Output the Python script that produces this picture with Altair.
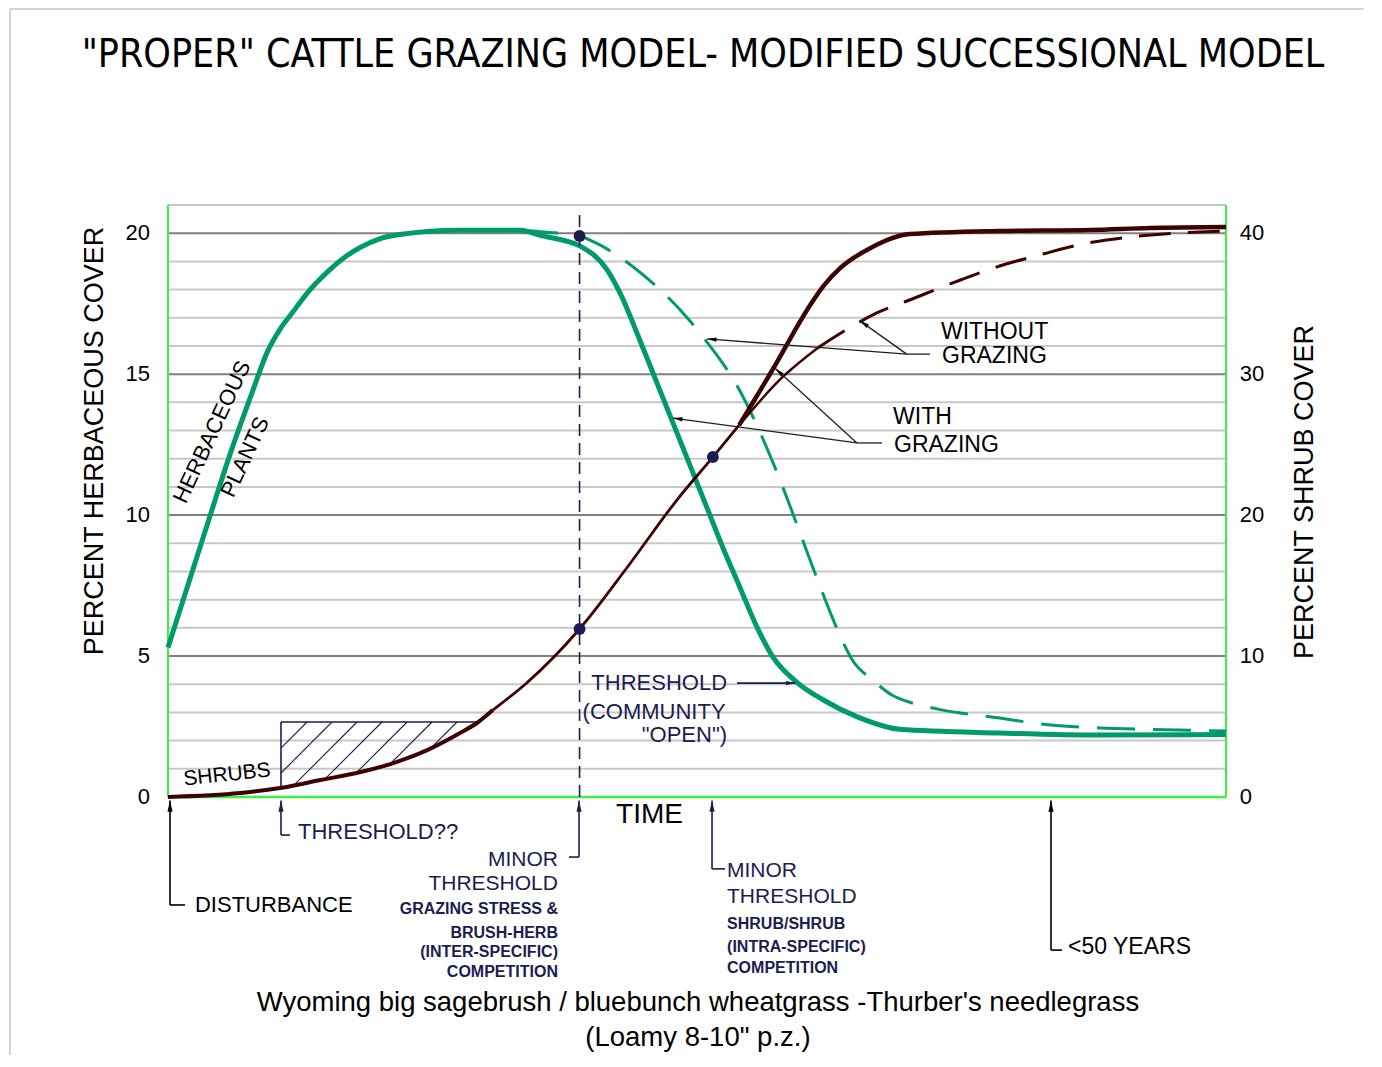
import math
import numpy as np
import pandas as pd
import altair as alt

# ---------------- data ----------------
# x = relative successional time (0 = disturbance, 100 = right edge of plot)
# herbaceous cover (%), left axis
herb_with_t = [0, 4, 5.9, 8, 9.4, 10.6, 11.8, 13.1, 15, 16.9, 18.2, 20, 21.9, 27.6, 33.3, 35.2, 38.9, 41.5,
               42.7, 44.6, 46.2, 47.7, 49.3, 50.9, 52.5, 54.1, 55.7, 57.2, 59.5, 61.9, 65.1, 69.2, 78.6, 88.1, 100]
herb_with_v = [5.3, 10.0, 12.2, 14.4, 15.8, 16.6, 17.2, 17.85, 18.6, 19.2, 19.5, 19.8, 19.95, 20.1, 20.1, 19.92,
               19.55, 18.7, 17.9, 16.2, 14.7, 13.3, 11.8, 10.3, 8.8, 7.4, 6.0, 4.95, 4.05, 3.45, 2.85, 2.4,
               2.27, 2.2, 2.22]
herb_without_t = [33.3, 35.2, 38.9, 40.2, 45.6, 47.2, 49.3, 50.6, 52.4, 53.3, 56.0, 58.1, 59.9, 61.6,
                  63.2, 64.7, 66.6, 68.5, 70.4, 73.0, 78.6, 83.4, 88.1, 92.8, 100]
herb_without_v = [20.1, 20.05, 19.9, 19.7, 18.3, 17.75, 16.9, 16.3, 15.4, 14.9, 12.9, 11.0, 9.2, 7.5,
                  6.0, 4.85, 4.15, 3.6, 3.33, 3.1, 2.8, 2.55, 2.45, 2.4, 2.34]

# shrub cover (%), right axis units
shrub_common_t = [0, 6.8, 10.6, 14.4, 18.2, 21.3, 24.5, 27.6, 29.2, 30.7, 33.9, 38.9, 43.5, 48.1, 51.5, 54.0]
shrub_common_v = [0, 0.28, 0.64, 1.2, 1.77, 2.41, 3.33, 4.54, 5.25, 6.17, 8.09, 11.92, 16.39, 21.07, 24.12, 26.4]
shrub_thin_from = 9   # the shared shrub line is drawn thinner from this index on
shrub_with_t = [54.0, 55.7, 57.6, 59.1, 60.7, 62.0, 63.5, 66.4, 70.1, 78.6, 87.2, 92.8, 100]
shrub_with_v = [26.4, 28.5, 30.9, 32.9, 34.9, 36.3, 37.5, 38.95, 39.94, 40.16, 40.23, 40.37, 40.44]
shrub_without_t = [54.0, 58.1, 61.4, 64.0, 67.0, 70.1, 74.9, 78.6, 82.7, 86.0, 90.9, 97.5, 100]
shrub_without_v = [26.4, 29.8, 31.86, 33.1, 34.34, 35.26, 36.68, 37.67, 38.52, 39.16, 39.73, 40.09, 40.16]
shrub_dash_from = 2   # index where the "without grazing" shrub line becomes dashed

# marked points
herb_dot_t, herb_dot_v = [38.9], [19.9]
shrub_dot_t, shrub_dot_v = [38.9, 51.5], [11.92, 24.12]
minor_line_t, minor_line_top = 38.9, 20.65

# grid levels (left axis units) and tick values
grid_minor = [v for v in range(0, 22) if v % 5 != 0 or v == 0]
grid_major = [5, 10, 15, 20]
left_ticks = [0, 5, 10, 15, 20]
right_ticks = [0, 10, 20, 30, 40]
RIGHT_PER_LEFT = 2.0   # right axis (shrub) = 2 x left axis (herbaceous)

# hatched "shrub threshold" box
hatch_left_t, hatch_top_v = 10.68, 2.66
hatch_top_t = [13.14, 15.5, 17.87, 20.23, 22.6, 24.96, 27.32]

# ---------------- styling ----------------
FONT = "Liberation Sans"
TITLE_FONT = "DejaVu Sans Condensed, DejaVu Sans"
GREEN = "#009a6c"
BROWN = "#3d0303"
NAVY = "#1c1c50"
BORDER = "#3cf03c"
W, H = 1058, 592
PX_T = W / 100.0
PX_V = H / 21.0
HEAD = "M0,0 L0.45,2 L-0.45,2 Z"

xs = alt.Scale(domain=[0, 100], nice=False, zero=False)
ys = alt.Scale(domain=[0, 21], nice=False, zero=False)


def X(f="t"):
    return alt.X(f + ":Q", scale=xs, axis=None)


def Y(f="v"):
    return alt.Y(f + ":Q", scale=ys, axis=None)


def line(t, v, color, width, dash=None, shrub=False):
    kw = dict(color=color, strokeWidth=width, interpolate="monotone", strokeCap="butt")
    if dash:
        kw["strokeDash"] = dash
    ch = alt.Chart(pd.DataFrame({"t": t, "v": v}))
    if shrub:
        ch = ch.transform_calculate(vl="datum.v / %g" % RIGHT_PER_LEFT)
        return ch.mark_line(**kw).encode(x=X(), y=Y("vl"))
    return ch.mark_line(**kw).encode(x=X(), y=Y())


def texts(labels, t, v, size, align="left", color="black", angle=0, font=FONT, weight="normal"):
    df = pd.DataFrame({"label": labels, "t": t, "v": v})
    return alt.Chart(df).mark_text(align=align, baseline="middle", fontSize=size, color=color,
                                   angle=angle, font=font, fontWeight=weight).encode(
        x=X(), y=Y(), text="label:N")


def segs(t1, v1, t2, v2, color, width, dash=None):
    df = pd.DataFrame({"t": t1, "v": v1, "t2": t2, "v2": v2})
    kw = dict(color=color, strokeWidth=width)
    if dash:
        kw["strokeDash"] = dash
    return alt.Chart(df).mark_rule(**kw).encode(x=X(), y=Y(), x2="t2:Q", y2="v2:Q")


def heads(t_from, v_from, t_tip, v_tip, color, size):
    ang = [math.degrees(math.atan2((c - a) * PX_T, (d - b) * PX_V)) % 360
           for a, b, c, d in zip(t_from, v_from, t_tip, v_tip)]
    df = pd.DataFrame({"t": t_tip, "v": v_tip, "ang": ang})
    return alt.Chart(df).mark_point(shape=HEAD, filled=True, color=color, size=size, opacity=1,
                                    strokeWidth=0).encode(
        x=X(), y=Y(), angle=alt.Angle("ang:Q", scale=None))


# ---------------- grid / frame ----------------
minor_rules = alt.Chart(pd.DataFrame({"v": grid_minor + [21]})).mark_rule(
    color="#c8c8c8", strokeWidth=2).encode(y=Y())
major_rules = alt.Chart(pd.DataFrame({"v": grid_major})).mark_rule(
    color="#808080", strokeWidth=2).encode(y=Y())
side_borders = alt.Chart(pd.DataFrame({"t": [0, 100]})).mark_rule(
    color=BORDER, strokeWidth=2).encode(x=X())
bottom_border = alt.Chart(pd.DataFrame({"v": [0]})).mark_rule(
    color=BORDER, strokeWidth=2.5).encode(y=Y())

# axis labels, placed through the same scales
left_labels = alt.Chart(pd.DataFrame({"tick": left_ticks})).transform_calculate(
    v="datum.tick", t="-1.7").mark_text(
    align="right", baseline="middle", fontSize=22, font=FONT, color="black").encode(
    x=X(), y=Y(), text="tick:N")
right_labels = alt.Chart(pd.DataFrame({"tick": right_ticks})).transform_calculate(
    v="datum.tick / %g" % RIGHT_PER_LEFT, t="101.3").mark_text(
    align="left", baseline="middle", fontSize=22, font=FONT, color="black").encode(
    x=X(), y=Y(), text="tick:N")
left_title = texts(["PERCENT  HERBACEOUS  COVER"], [-6.9], [12.63], 27, align="center", angle=270)
right_title = texts(["PERCENT  SHRUB  COVER"], [107.5], [10.82], 27, align="center", angle=270)

# ---------------- hatch box ----------------
slope = PX_T / PX_V
def shrub_left(t):
    return np.interp(t, shrub_common_t, shrub_common_v) / RIGHT_PER_LEFT

h_t1, h_v1, h_t2, h_v2 = [], [], [], []
for x0 in hatch_top_t:
    ts = np.linspace(x0, hatch_left_t, 600)
    vs = hatch_top_v - (x0 - ts) * slope
    below = vs <= shrub_left(ts)
    i = int(np.argmax(below)) if below.any() else len(ts) - 1
    h_t1.append(float(ts[i])); h_v1.append(float(vs[i]))
    h_t2.append(x0); h_v2.append(hatch_top_v)
hatch_right_t = float(np.interp(hatch_top_v * RIGHT_PER_LEFT, shrub_common_v, shrub_common_t))
hatch = segs(h_t1, h_v1, h_t2, h_v2, NAVY, 1.1)
box = segs([hatch_left_t, hatch_left_t], [hatch_top_v, hatch_top_v],
           [hatch_right_t, hatch_left_t], [hatch_top_v, float(shrub_left(hatch_left_t))], NAVY, 1.6)

# ---------------- curves ----------------
herb_with = line(herb_with_t, herb_with_v, GREEN, 5)
herb_without = line(herb_without_t, herb_without_v, GREEN, 3, dash=[38, 18])
shrub_early = line(shrub_common_t[:shrub_thin_from + 1], shrub_common_v[:shrub_thin_from + 1],
                   BROWN, 4, shrub=True)
shrub_mid = line(shrub_common_t[shrub_thin_from:], shrub_common_v[shrub_thin_from:],
                 BROWN, 2.8, shrub=True)
shrub_with = line(shrub_with_t, shrub_with_v, BROWN, 4.5, shrub=True)
shrub_wo_solid = line(shrub_without_t[:shrub_dash_from + 1], shrub_without_v[:shrub_dash_from + 1],
                      BROWN, 2.5, shrub=True)
shrub_wo_dash = line(shrub_without_t[shrub_dash_from:], shrub_without_v[shrub_dash_from:],
                     BROWN, 3, dash=[32, 17], shrub=True)

minor_line = segs([minor_line_t], [0], [minor_line_t], [minor_line_top], NAVY, 1.6, dash=[12, 7])
herb_dot = alt.Chart(pd.DataFrame({"t": herb_dot_t, "v": herb_dot_v})).mark_point(
    shape="circle", filled=True, color=NAVY, size=140, opacity=1).encode(x=X(), y=Y())
shrub_dots = alt.Chart(pd.DataFrame({"t": shrub_dot_t, "v": shrub_dot_v})).transform_calculate(
    vl="datum.v / %g" % RIGHT_PER_LEFT).mark_point(
    shape="circle", filled=True, color=NAVY, size=140, opacity=1).encode(x=X(), y=Y("vl"))

# ---------------- leaders and arrows ----------------
lead_t1 = [69.82, 69.82, 65.12, 65.12]
lead_v1 = [15.71, 15.71, 12.56, 12.56]
lead_t2 = [50.95, 65.4, 47.73, 57.4]
lead_v2 = [16.25, 16.89, 13.44, 15.2]
leaders = segs(lead_t1, lead_v1, lead_t2, lead_v2, "#202020", 1.3)
leader_stubs = segs([69.82, 65.12], [15.71, 12.56], [72.02, 67.49], [15.71, 12.56], "#202020", 1.3)
leader_heads = heads(lead_t1, lead_v1, lead_t2, lead_v2, "black", 90)

thr_arrow = segs([53.78], [4.04], [59.3], [4.04], NAVY, 1.6)
thr_head = heads([53.78], [4.04], [59.3], [4.04], NAVY, 90)

arr_t = [0.19, 10.68, 38.85, 51.42, 83.46]
arr_bottom = [-3.83, -1.35, -2.13, -2.55, -5.43]
arr_elbow = [1.61, 11.53, 37.9, 52.65, 84.5]
arr_color = ["black", NAVY, NAVY, NAVY, "black"]
arr_layers = []
for a, b, c, col in zip(arr_t, arr_bottom, arr_elbow, arr_color):
    arr_layers.append(segs([a, a], [-0.12, b], [a, c], [b, b], col, 1.6))
    arr_layers.append(heads([a], [-1.0], [a], [-0.12], col, 130))

# ---------------- text ----------------
title = texts(['"PROPER" CATTLE GRAZING MODEL- MODIFIED SUCCESSIONAL MODEL'], [50.57], [26.32],
              39, align="center", font=TITLE_FONT)
herb_label = texts(["HERBACEOUS"], [4.16], [12.95], 22, align="center", angle=295)
plants_label = texts(["PLANTS"], [7.28], [12.06], 22, align="center", angle=295)
shrubs_label = texts(["SHRUBS"], [5.58], [0.78], 21, align="center", angle=354)
grazing_labels = texts(["WITHOUT", "GRAZING", "WITH", "GRAZING"],
                       [73.06, 73.16, 68.53, 68.62], [16.5, 15.64, 13.48, 12.49], 23)
thr_labels = texts(["THRESHOLD", "(COMMUNITY", '"OPEN")'], [52.84, 52.7, 52.84],
                   [4.04, 3.03, 2.2], 22, align="right", color=NAVY)
time_label = texts(["TIME"], [45.51], [-0.64], 28, align="center")
dist_label = texts(["DISTURBANCE"], [2.55], [-3.83], 22)
thr2_label = texts(["THRESHOLD??"], [12.29], [-1.24], 22, color=NAVY)
minorL_big = texts(["MINOR", "THRESHOLD"], [36.86, 36.86], [-2.25, -3.08], 21, align="right", color=NAVY)
minorL_small = texts(["GRAZING STRESS &", "BRUSH-HERB", "(INTER-SPECIFIC)", "COMPETITION"],
                     [36.86] * 4, [-3.97, -4.82, -5.5, -6.21], 16, align="right", color=NAVY, weight="bold")
minorR_big = texts(["MINOR", "THRESHOLD"], [52.84, 52.84], [-2.63, -3.55], 21, color=NAVY)
minorR_small = texts(["SHRUB/SHRUB", "(INTRA-SPECIFIC)", "COMPETITION"],
                     [52.84] * 3, [-4.5, -5.32, -6.07], 16, color=NAVY, weight="bold")
years_label = texts(["<50 YEARS"], [85.07], [-5.32], 23)
caption = texts(["Wyoming big sagebrush / bluebunch wheatgrass -Thurber's needlegrass",
                 '(Loamy 8-10" p.z.)'], [50.09, 50.09], [-7.31, -8.55], 27.5, align="center")

# faint outer frame of the original figure
frame = segs([-14.93, -14.93], [27.95, 27.95], [-14.93, 113.0], [-9.5, 27.95], "#c4c4c4", 1.5)

chart = alt.layer(
    frame, minor_rules, major_rules, hatch, box, side_borders, bottom_border,
    herb_without, herb_with, minor_line,
    shrub_early, shrub_mid, shrub_with, shrub_wo_solid, shrub_wo_dash,
    herb_dot, shrub_dots,
    leaders, leader_stubs, leader_heads, thr_arrow, thr_head, *arr_layers,
    left_labels, right_labels, left_title, right_title,
    title, herb_label, plants_label, shrubs_label, grazing_labels, thr_labels, time_label,
    dist_label, thr2_label, minorL_big, minorL_small, minorR_big, minorR_small, years_label, caption,
).properties(
    width=W, height=H,
    autosize=alt.AutoSizeParams(type="none"),
    padding={"left": 160, "top": 197, "right": 140, "bottom": 258},
    background="white",
).configure_view(stroke=None)

chart.save("out.html", embed_options={"renderer": "svg", "actions": False})
